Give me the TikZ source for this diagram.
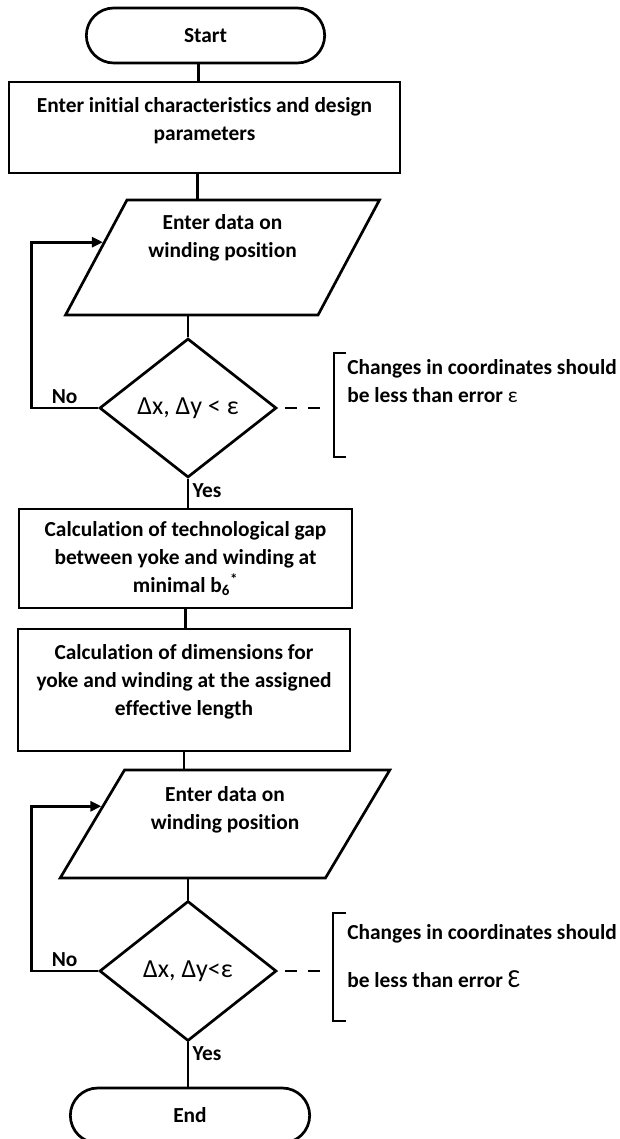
\documentclass[tikz,border=0pt]{standalone}
\usepackage{fontspec}
\setmainfont{Carlito}[Ligatures=CommonOff]
\usepackage{tikz}
\usetikzlibrary{shapes.geometric,shapes.misc,arrows.meta,calc}

\begin{document}
\begin{tikzpicture}[x=1pt, y=-1pt, line width=2.7pt,
	txt/.style={font=\bfseries\fontsize{21.4}{28}\selectfont},
	term/.style={draw, rounded rectangle, txt, minimum width=245pt, minimum height=55pt},
	proc/.style={draw, rectangle, txt, align=center, inner sep=0pt},
	io/.style={draw, trapezium, trapezium left angle=61, trapezium right angle=119, trapezium stretches=true, txt, align=center, inner sep=0pt},
	test/.style={draw, diamond, aspect=1.27, font=\fontsize{26}{28}\selectfont, inner sep=0pt, minimum width=177pt, minimum height=139pt},
	note/.style={txt, align=left, anchor=west, inner sep=0pt},
	fb/.style={-{Triangle[length=11pt,width=10pt]}},
]
\useasboundingbox (0,0) rectangle (619,1139);

\node[term] (start) at (205.5,35.5) {Start};
\node[proc, minimum width=391pt, minimum height=91pt, text depth=17pt] (init) at (204.5,127.5) {Enter initial characteristics and design\\parameters};
\node[io, minimum width=315pt, minimum height=115pt, text depth=43pt] (input1) at (222.5,257.5) {Enter data on\\winding position};
\node[test] (dec1) at (188,408) {Δx, Δy < ε};
\node[proc, minimum width=333pt, minimum height=99pt] (gap) at (185.5,558.5) {Calculation of technological gap\\between yoke and winding at\\minimal b\textsubscript{6}\textsuperscript{*}};
\node[proc, minimum width=332pt, minimum height=122pt, text depth=20pt] (dims) at (184,690) {Calculation of dimensions for\\yoke and winding at the assigned\\effective length};
\node[io, trapezium left angle=58, trapezium right angle=122, minimum width=330pt, minimum height=108pt, text depth=33pt] (input2) at (225,824) {Enter data on\\winding position};
\node[test, minimum height=140pt] (dec2) at (188,971) {Δx, Δy<ε};
\node[term, minimum width=246pt] (end) at (190,1115.5) {End};

% remarks beside the two tests
\node[note] (note1) at (346,381.5) {Changes in coordinates should\\be less than error {\mdseries ε}};
\node[note] (note2) at (346,956) {Changes in coordinates should\\[20pt]be less than error {\mdseries\fontsize{26}{28}\selectfont Ɛ}};
\coordinate (br1) at (334,408);
\coordinate (br2) at (333,971);
\draw (346,353) -| (334,457) -- (346,457);
\draw (346,913) -| (333,1021) -- (346,1021);

\draw ([xshift=-7pt]start.south) -- ([xshift=-7pt]start.south |- init.north);
\draw ([xshift=-7pt]init.south) -- ([xshift=-7pt]init.south |- input1.north);
\draw (input1.south -| dec1.north) -- (dec1.north);
\draw (dec1.south) -- node[txt, right, pos=0.4] {Yes} (dec1.south |- gap.north);
\draw (gap.south) -- (gap.south |- dims.north);
\draw (dims.south) -- (dims.south |- input2.north);
\draw (input2.south -| dec2.north) -- (dec2.north);
\draw (dec2.south) -- node[txt, right, pos=0.25] {Yes} (dec2.south |- end.north);

% loops back to the input blocks
\coordinate (in1) at ($(input1.bottom left corner)!0.63!(input1.top left corner)$);
\coordinate (in2) at ($(input2.bottom left corner)!0.66!(input2.top left corner)$);
\draw[fb] (dec1.west) -- node[txt, above] {No} ++(-67,0) |- (in1);
\draw[fb] (dec2.west) -- node[txt, above] {No} ++(-67,0) |- (in2);

\draw[dash pattern=on 12pt off 11pt] ([xshift=7pt]dec1.east) -- ([xshift=-12pt]br1);
\draw[dash pattern=on 12pt off 11pt] ([xshift=7pt]dec2.east) -- ([xshift=-12pt]br2);
\end{tikzpicture}
\end{document}
